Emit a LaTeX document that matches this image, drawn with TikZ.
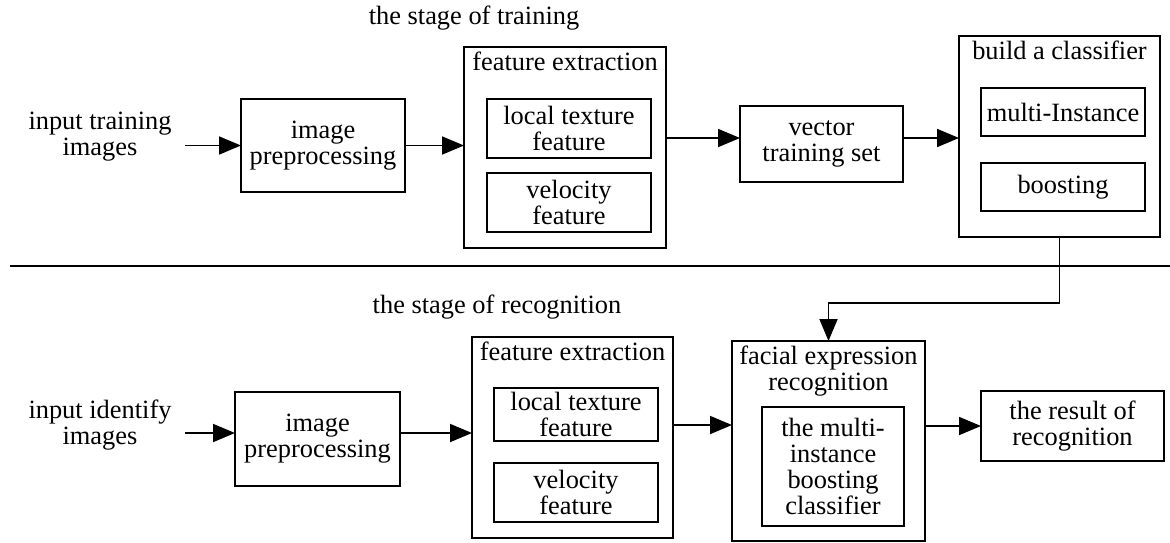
\documentclass[tikz,border=0pt]{standalone}
\usepackage{fontspec}
\setmainfont{Liberation Serif}
\usetikzlibrary{positioning}
\usetikzlibrary{arrows.meta}

\begin{document}
\begin{tikzpicture}[x=0.5pt,y=-0.5pt,line width=0.9pt,
 every node/.style={outer sep=0pt,font=\fontsize{13.2}{13}\selectfont},
 box/.style={draw,align=center,inner sep=2pt},
 lbl/.style={inner sep=0pt,align=center},
 flow/.style={-{Triangle[length=11pt,width=9pt]}}]

 \useasboundingbox (0,0) rectangle (1170,542);

 % the stage of training
 \node[lbl] (t1) at (474,18) {the stage of training};
 \node[lbl,inner xsep=7pt] (in1) at (100,137) {input training\\images};
 \node[box,minimum width=82pt,minimum height=46.5pt] (pre1) at (323,145.5) {image\\preprocessing};
 \node[box,minimum width=101pt,minimum height=100.5pt] (fe1) at (565,147.5) {};
 \node[lbl,below=2.5pt of fe1.north] (fe1l) {feature extraction};
 \node[box,minimum width=82pt,minimum height=29.5pt] (lt1) at (569,128.5) {local texture\\feature};
 \node[box,minimum width=82pt,minimum height=29.5pt] (ve1) at (569,202.5) {velocity\\feature};
 \node[box,minimum width=81.5pt,minimum height=38pt] (vts) at (821.5,144) {vector\\training set};
 \node[box,minimum width=100.5pt,minimum height=100.5pt] (bc) at (1059.5,136.5) {};
 \node[lbl,below=2.5pt of bc.north] (bcl) {build a classifier};
 \node[box,minimum width=82pt,minimum height=24pt] (mi) at (1063,112) {multi-Instance};
 \node[box,minimum width=82pt,minimum height=24pt] (bo) at (1063,187) {boosting};

 \coordinate (a1) at ([yshift=3pt]vts.west);
 \coordinate (a2) at ([yshift=3pt]vts.east);
 \draw[flow] (in1.east|-pre1.west) -- (pre1.west);
 \draw[flow] (pre1.east) -- (pre1.east-|fe1.west);
 \draw[flow] (fe1.east|-a1) -- (a1);
 \draw[flow] (a2) -- (a2-|bc.west);

 \draw[line width=0.7pt] (10,266) -- (1170,266);

 % the stage of recognition
 \node[lbl] (t2) at (497,307) {the stage of recognition};
 \node[lbl,inner xsep=7pt] (in2) at (100,425) {input identify\\images};
 \node[box,minimum width=82.5pt,minimum height=47pt] (pre2) at (317.5,439) {image\\preprocessing};
 \node[box,minimum width=100.5pt,minimum height=100.5pt] (fe2) at (572.5,437.5) {};
 \node[lbl,below=2.5pt of fe2.north] (fe2l) {feature extraction};
 \node[box,minimum width=82pt,minimum height=26.5pt] (lt2) at (576,414.5) {local texture\\feature};
 \node[box,minimum width=82pt,minimum height=29.5pt] (ve2) at (576,492.5) {velocity\\feature};
 \node[box,minimum width=96.5pt,minimum height=100pt] (fer) at (828.5,441) {};
 \node[lbl,below=2.5pt of fer.north] (ferl) {facial expression\\recognition};
 \node[box,minimum width=71pt,minimum height=59.5pt] (cls) at (833,466.5) {the multi-\\instance\\boosting\\classifier};
 \node[box,minimum width=91.5pt,minimum height=35pt] (res) at (1072.5,426) {the result of\\recognition};

 \coordinate (b1) at ([yshift=3pt]pre2.west);
 \coordinate (b2) at ([yshift=3pt]pre2.east);
 \coordinate (b3) at ([yshift=8pt]fer.west);
 \draw[flow] (in2.east|-b1) -- (b1);
 \draw[flow] (b2) -- (b2-|fe2.west);
 \draw[flow] (fe2.east|-b3) -- (b3);
 \draw[flow] (fer.east|-res.west) -- (res.west);

 \draw[flow] (bc.south) -- ++(0,66) -| (fer.north);

\end{tikzpicture}
\end{document}
